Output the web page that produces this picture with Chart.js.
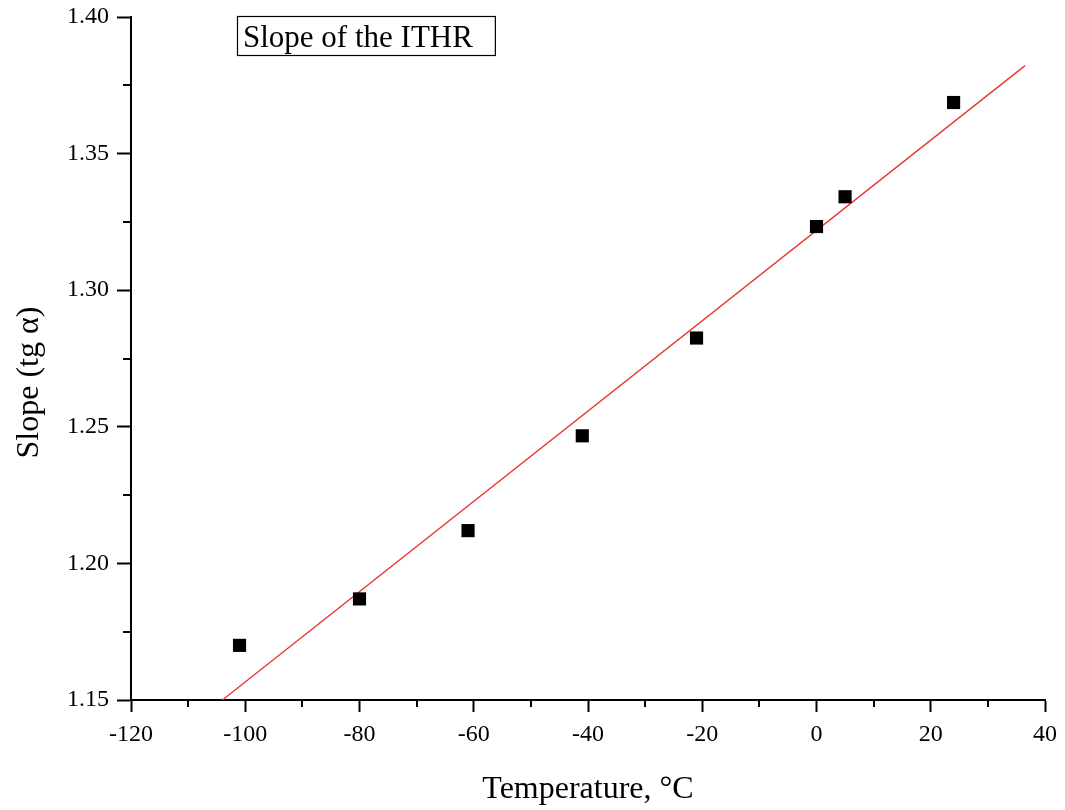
<!DOCTYPE html>
<html>
<head>
<meta charset="utf-8">
<script src="https://cdn.jsdelivr.net/npm/chart.js@4.4.1/dist/chart.umd.min.js"></script>
<style>
  html, body { margin: 0; padding: 0; background: #fff; }
  #wrap { width: 1065px; height: 810px; }
</style>
</head>
<body>
<div id="wrap"><canvas id="slope-chart" width="1065" height="810"></canvas></div>
<script>
// measured points (temperature in C, slope tg a)
var temps = [-101, -80, -61, -41, -21, 0, 5, 24];
var slopes = [1.170, 1.187, 1.212, 1.2467, 1.2825, 1.3233, 1.3342, 1.3687];

// linear fit end points
var fitTemps = [-104, 36.5];
var fitSlopes = [1.15, 1.3822];

var xMinorTicks = [-110, -90, -70, -50, -30, -10, 10, 30];
var yMinorTicks = [1.175, 1.225, 1.275, 1.325, 1.375];

var serif = 'Liberation Serif, Times New Roman, serif';

var pts = temps.map(function(t, i) { return {x: t, y: slopes[i]}; });
var fit = fitTemps.map(function(t, i) { return {x: t, y: fitSlopes[i]}; });

// Chart.js has no minor ticks, so draw the short ones by hand
var minorTicks = {
    id: 'minorTicks',
    afterDraw: function(chart) {
        var c = chart.ctx;
        var xs = chart.scales.x;
        var ys = chart.scales.y;
        var area = chart.chartArea;
        c.save();
        c.strokeStyle = '#000';
        c.lineWidth = 2;
        c.beginPath();
        xMinorTicks.forEach(function(v) {
            var px = Math.round(xs.getPixelForValue(v));
            c.moveTo(px, area.bottom);
            c.lineTo(px, area.bottom + 7);
        });
        yMinorTicks.forEach(function(v) {
            var py = Math.round(ys.getPixelForValue(v));
            c.moveTo(area.left, py);
            c.lineTo(area.left - 8, py);
        });
        c.stroke();
        c.restore();
    }
};

var titleBox = {
    id: 'titleBox',
    afterDraw: function(chart) {
        var c = chart.ctx;
        var area = chart.chartArea;
        var text = 'Slope of the ITHR';
        c.save();
        c.font = '31px ' + serif;
        var w = c.measureText(text).width;
        var bx = area.left + 106, by = area.top - 1;
        c.fillStyle = '#fff';
        c.fillRect(bx, by, w + 28, 39);
        c.strokeStyle = '#000';
        c.lineWidth = 1.2;
        c.strokeRect(bx + 0.5, by + 0.5, w + 28, 39);
        c.fillStyle = '#000';
        c.textBaseline = 'alphabetic';
        c.fillText(text, bx + 6, by + 31);
        c.restore();
    }
};

var ctx = document.getElementById('slope-chart');
var slopeChart = new Chart(ctx, {
    type: 'scatter',
    data: {
        datasets: [
            {
                label: 'Fit',
                data: fit,
                showLine: true,
                borderColor: '#e8332e',
                borderWidth: 1.3,
                pointRadius: 0,
                order: 2
            },
            {
                label: 'Slope',
                data: pts,
                pointStyle: 'rect',
                pointRadius: 9.3,
                pointBorderWidth: 0,
                backgroundColor: '#000',
                borderColor: '#000',
                order: 1
            }
        ]
    },
    options: {
        responsive: false,
        animation: false,
        layout: { padding: { left: 0, right: 18, top: 17, bottom: 0 } },
        plugins: {
            legend: { display: false },
            tooltip: { enabled: false }
        },
        scales: {
            x: {
                type: 'linear',
                min: -120,
                max: 40,
                afterFit: function(scale) { scale.height = 110; },
                ticks: {
                    stepSize: 20,
                    color: '#000',
                    padding: 8,
                    font: { family: serif, size: 24 }
                },
                grid: {
                    drawOnChartArea: false,
                    drawTicks: true,
                    tickLength: 12,
                    tickWidth: 2,
                    tickColor: '#000'
                },
                border: { display: true, color: '#000', width: 2 },
                title: {
                    display: true,
                    text: 'Temperature, \u00b0C',
                    color: '#000',
                    font: { family: serif, size: 32 },
                    padding: { top: 0, bottom: 1 }
                }
            },
            y: {
                type: 'linear',
                min: 1.15,
                max: 1.40,
                afterFit: function(scale) { scale.width = 131; },
                ticks: {
                    stepSize: 0.05,
                    color: '#000',
                    padding: 8,
                    font: { family: serif, size: 24, lineHeight: 0.6 },
                    callback: function(v) { return Number(v).toFixed(2); }
                },
                grid: {
                    drawOnChartArea: false,
                    drawTicks: true,
                    tickLength: 14,
                    tickWidth: 2,
                    tickColor: '#000'
                },
                border: { display: true, color: '#000', width: 2 },
                title: {
                    display: true,
                    // trailing spaces push the text down a little, as in the original
                    text: 'Slope (tg \u03b1)\u00a0\u00a0\u00a0\u00a0\u00a0\u00a0',
                    color: '#000',
                    font: { family: serif, size: 32 },
                    padding: { top: 10, bottom: 0 }
                }
            }
        }
    },
    plugins: [minorTicks, titleBox]
});
</script>
</body>
</html>
